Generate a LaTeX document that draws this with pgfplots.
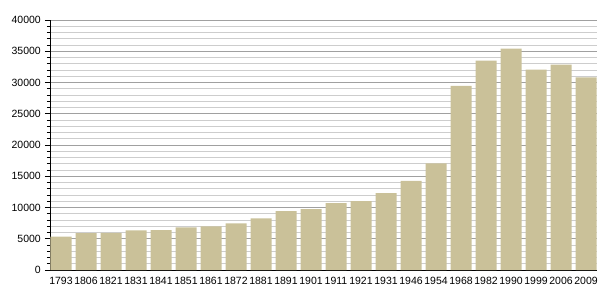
\documentclass[border=0pt]{standalone}
\usepackage{pgfplots}
\pgfplotsset{compat=1.18}
\usepackage{fontspec}
\setmainfont{Liberation Sans}
\definecolor{barc}{RGB}{202,193,153}
\definecolor{majg}{RGB}{160,160,160}
\definecolor{ming}{RGB}{205,205,205}
\begin{document}
\begin{tikzpicture}
\useasboundingbox (-50pt,-30pt) rectangle (555pt,270pt);
\begin{axis}[
  scale only axis,
  width=547pt, height=250pt,
  xmin=-0.44, xmax=21.44,
  ymin=0, ymax=40000,
  axis x line*=bottom, axis y line*=left,
  axis line style={black, line width=0.8pt},
  xtick={0,...,21},
  xticklabels={1793,1806,1821,1831,1841,1851,1861,1872,1881,1891,1901,1911,1921,1931,1946,1954,1968,1982,1990,1999,2006,2009},
  x tick label style={font=\fontsize{10.5}{12}\selectfont, inner sep=1pt, yshift=-1pt},
  major x tick style={draw=none},
  ytick={0,5000,...,40000},
  minor ytick={0,1000,...,40000},
  y tick label style={font=\fontsize{10.5}{12}\selectfont, inner sep=1pt, xshift=-3pt},
  /pgf/number format/assume math mode=true,
  scaled y ticks=false,
  yticklabel style={/pgf/number format/1000 sep={}},
  ytick style={black, line width=0.8pt},
  tick align=outside,
  major tick length=5pt,
  minor tick length=3pt,
  ymajorgrids, yminorgrids,
  major grid style={majg, line width=0.8pt},
  minor grid style={ming, line width=0.8pt},
  axis on top=false,
  clip=false,
]
\addplot[ybar, bar width=21pt, fill=barc, draw=none] coordinates {
(0,5330) (1,5900) (2,5950) (3,6330) (4,6380) (5,6820) (6,6980) (7,7460) (8,8270) (9,9400) (10,9730) (11,10690) (12,11020) (13,12300) (14,14250) (15,17050) (16,29450) (17,33500) (18,35400) (19,32050) (20,32850) (21,30800)
};
\end{axis}
\end{tikzpicture}
\end{document}
